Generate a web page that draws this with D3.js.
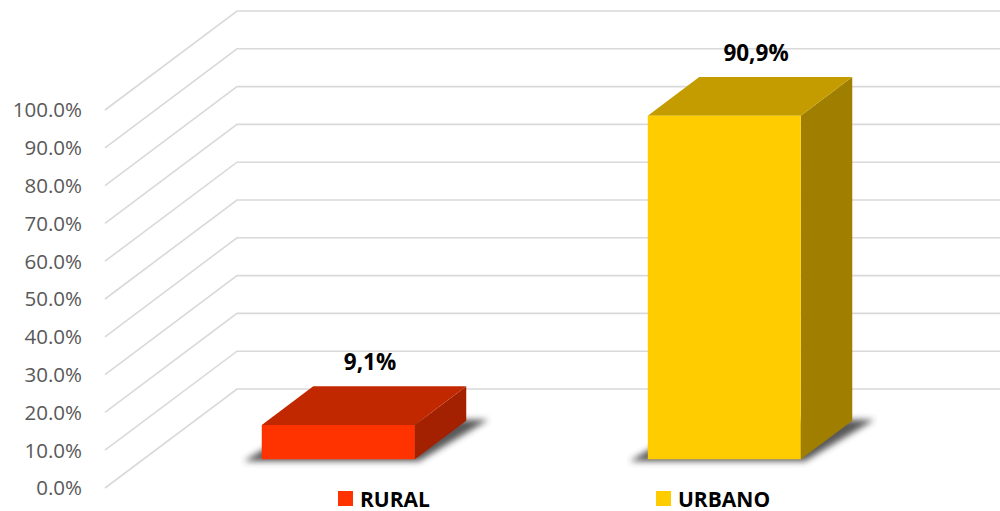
<!DOCTYPE html>
<html>
<head>
<meta charset="utf-8">
<script src="https://cdn.jsdelivr.net/npm/d3@7"></script>
<style>
  body { margin: 0; background: #fff; }
  svg { display: block; font-family: "Open Sans", sans-serif; }
</style>
</head>
<body>
<div id="chart"></div>
<script>
// data
var categories = ["RURAL", "URBANO"];
var values = [9.1, 90.9];
var valueLabels = ["9,1%", "90,9%"];
var ticks = [0, 10, 20, 30, 40, 50, 60, 70, 80, 90, 100];

var frontColors = ["#FF3300", "#FFCC00"];
var topColors = ["#C22800", "#C49C00"];
var sideColors = ["#A32100", "#A07F00"];

var width = 1000, height = 511;
var svg = d3.select("#chart").append("svg")
    .attr("width", width)
    .attr("height", height);

// depth vector of the whole floor (front -> back wall)
var depthX = 132, depthY = -99;
var plotLeft = 105;
var y = d3.scaleLinear().domain([0, 100]).range([488, 110]);
var x = d3.scalePoint().domain(categories).range([107, 879]).padding(0.5);
var barW = 153;
var barFront = 0.29, barBack = 0.68;   // bar position inside the depth

function proj(px, v, d) {
    return [px + d * depthX, y(v) + d * depthY];
}

var defs = svg.append("defs");
defs.append("filter").attr("id", "blur")
    .attr("x", "-20%").attr("y", "-50%").attr("width", "140%").attr("height", "200%")
    .append("feGaussianBlur").attr("stdDeviation", 3);

// gridlines (side wall diagonal + back wall)
ticks.forEach(function(t) {
    var a = proj(plotLeft, t, 0), b = proj(plotLeft, t, 1);
    svg.append("polyline")
        .attr("points", [a, b, [width + 5, b[1]]].map(p => p.join(",")).join(" "))
        .attr("fill", "none")
        .attr("stroke", "#D9D9D9")
        .attr("stroke-width", 1.6);
    svg.append("text")
        .attr("x", 82)
        .attr("y", a[1] + 2)
        .attr("text-anchor", "end")
        .attr("dominant-baseline", "middle")
        .attr("fill", "#595959")
        .style("font-size", "20.5px")
        .text(t.toFixed(1) + "%");
});

// bars
categories.forEach(function(c, i) {
    var x0 = x(c) - barW / 2, x1 = x(c) + barW / 2;
    var v = values[i];
    var fb0 = proj(x0, 0, barFront), fb1 = proj(x1, 0, barFront);
    var ft0 = proj(x0, v, barFront), ft1 = proj(x1, v, barFront);
    var bb1 = proj(x1, 0, barBack);
    var bt0 = proj(x0, v, barBack), bt1 = proj(x1, v, barBack);
    var g = svg.append("g");

    // soft shadow on the floor
    g.append("polygon")
        .attr("points", [[fb0[0] - 18, fb0[1] + 2], [fb1[0] + 4, fb1[1] + 2],
                         [bb1[0] + 22, bb1[1] - 1], [bb1[0] - barW, bb1[1] - 1]]
                         .map(p => p.join(",")).join(" "))
        .attr("fill", "#3a3a3a")
        .attr("opacity", 0.85)
        .attr("filter", "url(#blur)");

    g.append("polygon")
        .attr("points", [fb1, bb1, bt1, ft1].map(p => p.join(",")).join(" "))
        .attr("fill", sideColors[i]);
    g.append("polygon")
        .attr("points", [ft0, ft1, bt1, bt0].map(p => p.join(",")).join(" "))
        .attr("fill", topColors[i]);
    g.append("polygon")
        .attr("points", [fb0, fb1, ft1, ft0].map(p => p.join(",")).join(" "))
        .attr("fill", frontColors[i]);

    g.append("text")
        .attr("x", (ft0[0] + bt1[0]) / 2 + 6)
        .attr("y", bt0[1] - 16)
        .attr("text-anchor", "middle")
        .attr("font-weight", "bold")
        .attr("fill", "#000")
        .style("font-size", "22.5px")
        .text(valueLabels[i]);
});

// legend
var legendX = [338, 656];
categories.forEach(function(c, i) {
    var lg = svg.append("g").attr("transform", "translate(" + legendX[i] + ",491)");
    lg.append("rect")
        .attr("width", 15).attr("height", 15)
        .attr("fill", frontColors[i]);
    lg.append("text")
        .attr("x", 22)
        .attr("y", 15.5)
        .attr("font-weight", "bold")
        .attr("fill", "#000")
        .style("font-size", "21px")
        .text(c);
});
</script>
</body>
</html>
